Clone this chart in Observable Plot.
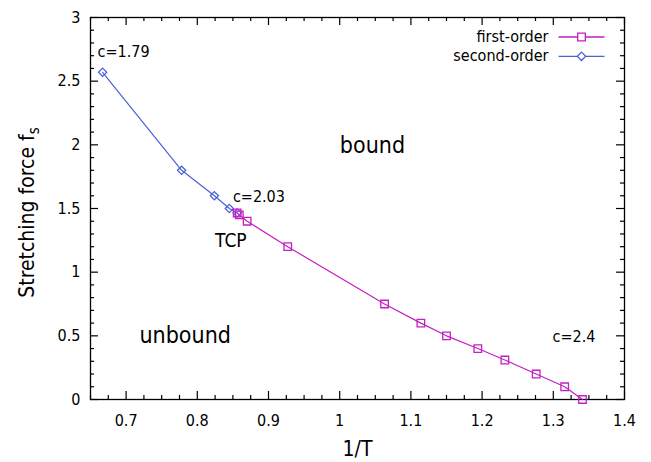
<!DOCTYPE html>
<html>
<head>
<meta charset="utf-8">
<script src="https://cdn.jsdelivr.net/npm/d3@7"></script>
<script src="https://cdn.jsdelivr.net/npm/@observablehq/plot@0.6"></script>
<style>
  body { margin: 0; background: #fff; }
  #chart svg { display: block; }
</style>
</head>
<body>
<div id="chart"></div>
<script>
// Phase boundary of the stretched chain: 1/T against the stretching force.
const firstOrderInvT = [0.856, 0.859, 0.870, 0.927, 1.063, 1.114, 1.150, 1.194, 1.232, 1.276, 1.316, 1.341];
const firstOrderForce = [1.465, 1.45, 1.40, 1.20, 0.75, 0.60, 0.50, 0.40, 0.31, 0.20, 0.10, 0.0];
const secondOrderInvT = [0.667, 0.778, 0.824, 0.845, 0.856];
const secondOrderForce = [2.57, 1.80, 1.60, 1.50, 1.465];

const seriesNames = ["first-order", "second-order"];
const seriesColors = ["#c41fc4", "#4a62d6"];

const xTicks = [0.7, 0.8, 0.9, 1.0, 1.1, 1.2, 1.3, 1.4];
const yTicks = [0, 0.5, 1, 1.5, 2, 2.5, 3];
const xDomain = [0.65, 1.4];
const yDomain = [0, 3];

// Text placed on the diagram (anchored at the left edge / centre, in data units)
const noteText = ["c=1.79", "c=2.03", "TCP", "c=2.4"];
const noteInvT = [0.660, 0.850, 0.825, 1.299];
const noteForce = [2.73, 1.59, 1.247, 0.492];
const regionText = ["bound", "unbound"];
const regionInvT = [1.046, 0.783];
const regionForce = [1.99, 0.505];

const width = 651, height = 462;
const margin = {top: 17, right: 27, bottom: 63, left: 90};
const fontFamily = "'DejaVu Sans Condensed', 'DejaVu Sans', sans-serif";

const firstOrder = firstOrderInvT.map((x, i) => ({x, f: firstOrderForce[i]}));
const secondOrder = secondOrderInvT.map((x, i) => ({x, f: secondOrderForce[i]}));
const notes = noteText.map((t, i) => ({t, x: noteInvT[i], f: noteForce[i]}));
const regions = regionText.map((t, i) => ({t, x: regionInvT[i], f: regionForce[i]}));

// inward tick marks on all four sides (mirrored ticks)
const xPerPx = (xDomain[1] - xDomain[0]) / (width - margin.left - margin.right);
const yPerPx = (yDomain[1] - yDomain[0]) / (height - margin.top - margin.bottom);
const xMinor = d3.range(0, 31).map(i => +(xDomain[0] + i * 0.025).toFixed(3)).filter(v => !xTicks.some(t => Math.abs(t - v) < 1e-6));
const yMinor = d3.range(0, 31).map(i => +(i * 0.1).toFixed(2)).filter(v => !yTicks.some(t => Math.abs(t - v) < 1e-6));
const major = 8, minor = 4;

function xTickRules(values, len) {
  return [
    Plot.ruleX(values, {x: d => d, y1: yDomain[0], y2: yDomain[0] + len * yPerPx, stroke: "black", strokeWidth: 1.2}),
    Plot.ruleX(values, {x: d => d, y1: yDomain[1], y2: yDomain[1] - len * yPerPx, stroke: "black", strokeWidth: 1.2})
  ];
}
function yTickRules(values, len) {
  return [
    Plot.ruleY(values, {y: d => d, x1: xDomain[0], x2: xDomain[0] + len * xPerPx, stroke: "black", strokeWidth: 1.2}),
    Plot.ruleY(values, {y: d => d, x1: xDomain[1], x2: xDomain[1] - len * xPerPx, stroke: "black", strokeWidth: 1.2})
  ];
}

// key entries: a line sample with the series marker in its middle
function keySymbol(kind) {
  return {
    draw(ctx) {
      const h = 23, s = kind === "square" ? 3.8 : 4.2;
      ctx.moveTo(-h, 0); ctx.lineTo(-s, 0);
      ctx.moveTo(s, 0); ctx.lineTo(h, 0);
      if (kind === "square") {
        ctx.rect(-s, -s, 2 * s, 2 * s);
      } else {
        ctx.moveTo(0, -s); ctx.lineTo(s, 0); ctx.lineTo(0, s); ctx.lineTo(-s, 0); ctx.closePath();
      }
    }
  };
}

const chart = Plot.plot({
  width, height,
  marginTop: margin.top, marginRight: margin.right, marginBottom: margin.bottom, marginLeft: margin.left,
  style: {fontFamily, fontSize: "16px", color: "black", background: "white"},
  x: {domain: xDomain, label: null},
  y: {domain: yDomain, label: null},
  marks: [
    Plot.axisX({ticks: xTicks, tickSize: 0, tickPadding: 15, fontSize: 16, tickFormat: d3.format("~g"), label: null}),
    Plot.axisY({ticks: yTicks, tickSize: 0, tickPadding: 10, fontSize: 16, tickFormat: d3.format("~g"), label: null}),
    ...xTickRules(xTicks, major), ...xTickRules(xMinor, minor),
    ...yTickRules(yTicks, major), ...yTickRules(yMinor, minor),
    Plot.frame({stroke: "black", strokeWidth: 1.3}),

    Plot.line(secondOrder, {x: "x", y: "f", stroke: seriesColors[1], strokeWidth: 1.2}),
    Plot.dot(secondOrder, {x: "x", y: "f", symbol: "diamond2", r: 3.7, stroke: seriesColors[1], strokeWidth: 1.3, fill: "none"}),
    Plot.line(firstOrder, {x: "x", y: "f", stroke: seriesColors[0], strokeWidth: 1.2}),
    Plot.dot(firstOrder, {x: "x", y: "f", symbol: "square2", r: 4.8, stroke: seriesColors[0], strokeWidth: 1.3, fill: "none"}),

    Plot.text(notes, {x: "x", y: "f", text: "t", textAnchor: "start", lineAnchor: "middle",
      fontSize: d => d.t === "TCP" ? 19 : 16, fill: "black"}),
    Plot.text(regions, {x: "x", y: "f", text: "t", textAnchor: "middle", lineAnchor: "middle", fontSize: 23, fill: "black"}),

    // key
    Plot.text([seriesNames[0]], {frameAnchor: "top-right", dx: -76, dy: 19.5, text: d => d, textAnchor: "end", lineAnchor: "middle", fontSize: 16, fill: "black"}),
    Plot.text([seriesNames[1]], {frameAnchor: "top-right", dx: -76, dy: 38.8, text: d => d, textAnchor: "end", lineAnchor: "middle", fontSize: 16, fill: "black"}),
    Plot.dot([seriesNames[0]], {frameAnchor: "top-right", dx: -43, dy: 19.5, symbol: keySymbol("square"), stroke: seriesColors[0], strokeWidth: 1.3, fill: "none"}),
    Plot.dot([seriesNames[1]], {frameAnchor: "top-right", dx: -43, dy: 38.8, symbol: keySymbol("diamond"), stroke: seriesColors[1], strokeWidth: 1.3, fill: "none"}),

    // axis titles
    Plot.text(["1/T"], {frameAnchor: "bottom", dy: 50, text: d => d, textAnchor: "middle", lineAnchor: "middle", fontSize: 21, fill: "black"}),
    Plot.text(["Stretching force f"], {frameAnchor: "left", dx: -63, dy: 4, rotate: -90, text: d => d, textAnchor: "middle", lineAnchor: "middle", fontSize: 21, fill: "black", className: "ylabel"})
  ]
});

document.getElementById("chart").appendChild(chart);

// subscript "s" on the force symbol
d3.select(chart).selectAll(".ylabel text").each(function () {
  d3.select(this).append("tspan").attr("dy", "0.35em").attr("font-size", 15).text("s");
});
</script>
</body>
</html>
